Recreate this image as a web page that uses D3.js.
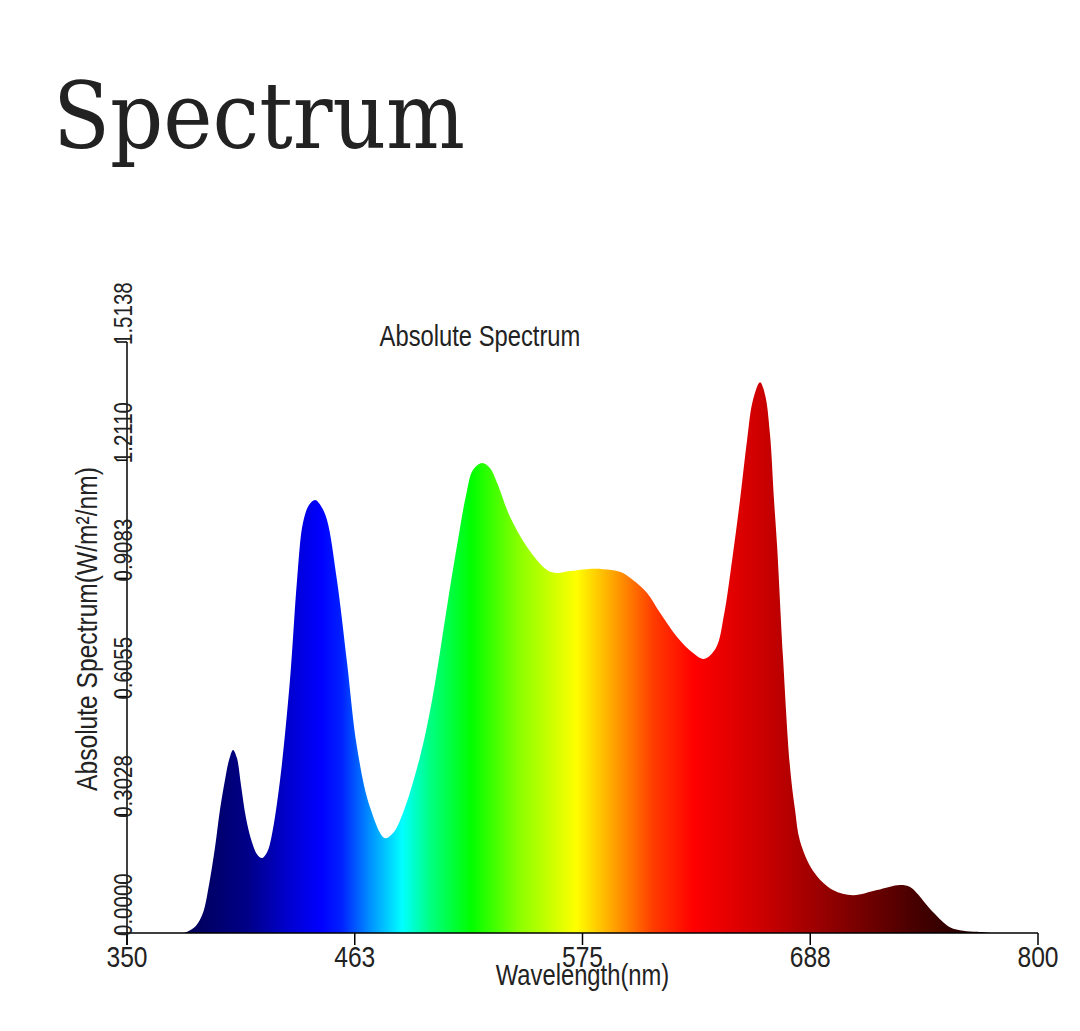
<!DOCTYPE html>
<html>
<head>
<meta charset="utf-8">
<script src="https://cdn.jsdelivr.net/npm/d3@7"></script>
<style>
  body { margin: 0; background: #fff; }
  svg { display: block; }
</style>
</head>
<body>
<svg id="chart" width="1080" height="1031"></svg>
<script>
// wavelength (nm) and absolute irradiance (W/m2/nm)
var wavelengths = [378, 380, 384, 387.5, 390.5, 393.5, 395.9, 398.4, 400.4, 402.4, 404.3, 406.3, 408.8,
  411.7, 414.2, 416.7, 419.2, 421.5, 425.6, 430.5, 434, 436.9, 439.9, 442.9, 445.8, 448.8, 453.7,
  458.7, 463.6, 470, 477.4, 481.4, 486.3, 494.7, 500.7, 508.6, 513.5, 517.5, 520.9, 525.4, 529.3,
  532.8, 539.2, 547.6, 557.5, 562.4, 568.8, 577.2, 585.1, 593.5, 599.9, 606.9, 613.3, 621.7,
  629.6, 635, 640.9, 644.9, 648.9, 652.8, 656.3, 659.2, 662.7, 665.2, 667.6, 669.6, 671.1, 674,
  677.5, 680, 682.4, 688.9, 698.7, 708.6, 720.5, 731.8, 736.8, 740.2, 748.1, 756.5, 763, 770, 777];
var irradiance = [0, 0.004, 0.018, 0.051, 0.123, 0.22, 0.315, 0.392, 0.443, 0.469, 0.448, 0.379, 0.294,
  0.233, 0.202, 0.192, 0.207, 0.25, 0.392, 0.648, 0.904, 1.05, 1.096, 1.109, 1.094, 1.058, 0.904,
  0.692, 0.476, 0.323, 0.243, 0.256, 0.307, 0.451, 0.597, 0.853, 1.007, 1.122, 1.186, 1.204, 1.191,
  1.153, 1.066, 0.989, 0.93, 0.922, 0.927, 0.932, 0.932, 0.925, 0.904, 0.871, 0.82, 0.758,
  0.717, 0.702, 0.73, 0.815, 0.955, 1.109, 1.263, 1.365, 1.411, 1.378, 1.278, 1.109, 0.994, 0.71,
  0.425, 0.315, 0.236, 0.159, 0.11, 0.097, 0.11, 0.123, 0.118, 0.102, 0.054, 0.015, 0.006, 0.003, 0];

var xTicks = [350, 462.5, 575, 687.5, 800];
var xTickLabels = ["350", "463", "575", "688", "800"];
var yTicks = [0, 0.30276, 0.60552, 0.90828, 1.21104, 1.5138];
var yTickLabels = ["0.0000", "0.3028", "0.6055", "0.9083", "1.2110", "1.5138"];

// colour of the light at each wavelength, used for the fill gradient
var colorStops = [
  [350, "#00003c"], [380, "#000058"], [410, "#000088"], [430, "#0000d0"], [446, "#0000ff"],
  [456, "#0020ff"], [470, "#0090ff"], [486, "#00ffff"], [500, "#00ff80"], [520, "#00ff00"],
  [545, "#90ff00"], [572, "#ffff00"], [590, "#ffa500"], [610, "#ff3c00"], [630, "#ff0000"],
  [660, "#d20000"], [700, "#8c0000"], [740, "#460000"], [770, "#200000"], [800, "#100000"]
];

var svg = d3.select("#chart");
var sans = "'Liberation Sans', Arial, sans-serif";
var squeeze = 0.82;   // arial-narrow look

var x = d3.scaleLinear().domain([350, 800]).range([127, 1038]);
var y = d3.scaleLinear().domain([0, 1.5138]).range([933, 342]);

function label(tx, ty, rot, size, anchor, str){
  return svg.append("text")
    .attr("transform", "translate(" + tx + "," + ty + ") rotate(" + rot + ") scale(" + squeeze + ",1)")
    .attr("text-anchor", anchor)
    .style("font-family", sans)
    .style("font-size", size + "px")
    .style("fill", "#222")
    .text(str);
}

// page heading
svg.append("text")
  .attr("x", 53)
  .attr("y", 148)
  .attr("textLength", 412)
  .attr("lengthAdjust", "spacingAndGlyphs")
  .style("font-family", "'DejaVu Serif', serif")
  .style("font-size", "92px")
  .style("fill", "#222")
  .text("Spectrum");

var grad = svg.append("defs").append("linearGradient")
  .attr("id", "spec")
  .attr("gradientUnits", "userSpaceOnUse")
  .attr("x1", x(350)).attr("x2", x(800))
  .attr("y1", 0).attr("y2", 0);

grad.selectAll("stop").data(colorStops).enter().append("stop")
  .attr("offset", function(d){ return (d[0] - 350) / 450; })
  .attr("stop-color", function(d){ return d[1]; });

var pts = wavelengths.map(function(w, i){ return [w, irradiance[i]]; });

var area = d3.area()
  .x(function(d){ return x(d[0]); })
  .y0(y(0))
  .y1(function(d){ return y(Math.max(0, d[1])); })
  .curve(d3.curveCatmullRom.alpha(0.5));

svg.append("path")
  .datum(pts)
  .attr("d", area)
  .attr("fill", "url(#spec)");

// axes
var axisG = svg.append("g").attr("stroke", "#000").attr("stroke-width", 1.5);
axisG.append("line").attr("x1", x(350)).attr("x2", x(800)).attr("y1", y(0)).attr("y2", y(0));
axisG.append("line").attr("x1", x(350)).attr("x2", x(350)).attr("y1", y(1.5138)).attr("y2", y(0) + 12);

axisG.selectAll(".xt").data(xTicks).enter().append("line")
  .attr("x1", function(d){ return x(d); }).attr("x2", function(d){ return x(d); })
  .attr("y1", y(0)).attr("y2", y(0) + 12);

axisG.selectAll(".yt").data(yTicks).enter().append("line")
  .attr("x1", x(350) - 10).attr("x2", x(350))
  .attr("y1", function(d){ return y(d); }).attr("y2", function(d){ return y(d); });

xTicks.forEach(function(d, i){
  label(x(d), 967, 0, 30, "middle", xTickLabels[i]);
});

yTicks.forEach(function(d, i){
  label(x(350) + 5, y(d) + 3, -90, 25, "start", yTickLabels[i]);
});

label(x(575), 985, 0, 29, "middle", "Wavelength(nm)");
label(97, 629, -90, 30, "middle", "Absolute Spectrum(W/m²/nm)");
label(480, 346, 0, 29, "middle", "Absolute Spectrum");
</script>
</body>
</html>
